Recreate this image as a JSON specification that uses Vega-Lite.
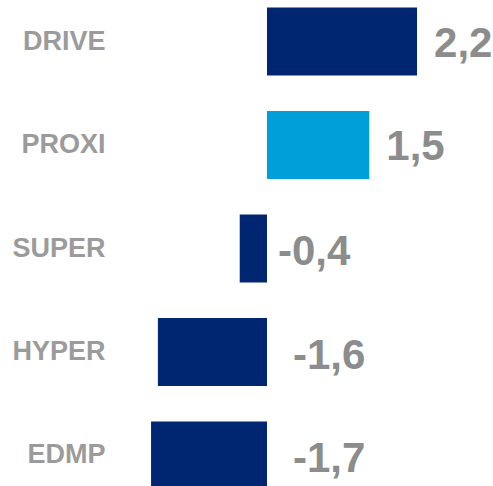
{
  "$schema": "https://vega.github.io/schema/vega-lite/v6.json",
  "width": 383,
  "height": 486,
  "autosize": "none",
  "padding": {"left": 110, "top": 0, "right": 0, "bottom": 0},
  "background": "white",
  "config": {"view": {"stroke": null}, "font": "Liberation Sans"},
  "data": {"values": [
    {"cat": "DRIVE", "value": 2.2, "label": "2,2", "group": "a"},
    {"cat": "PROXI", "value": 1.5, "label": "1,5", "group": "b"},
    {"cat": "SUPER", "value": -0.4, "label": "-0,4", "group": "a"},
    {"cat": "HYPER", "value": -1.6, "label": "-1,6", "group": "a"},
    {"cat": "EDMP", "value": -1.7, "label": "-1,7", "group": "a"}
  ]},
  "encoding": {
    "y": {"field": "cat", "type": "nominal", "sort": null,
      "scale": {"range": [0, 497], "paddingInner": 0.343, "paddingOuter": 0.0725},
      "axis": {"title": null, "domain": false, "ticks": false, "labelPadding": 5,
        "labelFontSize": 27, "labelFontWeight": "bold", "labelColor": "#9b9b9b",
        "labelFont": "Liberation Sans"}}
  },
  "layer": [
    {
      "mark": {"type": "bar"},
      "encoding": {
        "x": {"field": "value", "type": "quantitative", "scale": {"domain": [-2.302, 3.314], "nice": false, "zero": false}, "axis": null},
        "x2": {"datum": 0},
        "color": {"field": "group", "type": "nominal", "scale": {"domain": ["a", "b"], "range": ["#002672", "#009fda"]}, "legend": null}
      }
    },
    {
      "transform": [{"filter": "datum.value > 0"}],
      "mark": {"type": "text", "align": "left", "baseline": "alphabetic", "dx": 17, "dy": 15, "fontSize": 42, "fontWeight": "bold", "color": "#8c8c8c"},
      "encoding": {
        "x": {"field": "value", "type": "quantitative"},
        "text": {"field": "label"}
      }
    },
    {
      "transform": [{"filter": "datum.value < 0 && datum.value > -1"}],
      "mark": {"type": "text", "align": "left", "baseline": "alphabetic", "dx": 11, "dy": 16, "fontSize": 42, "fontWeight": "bold", "color": "#8c8c8c"},
      "encoding": {
        "x": {"datum": 0, "type": "quantitative"},
        "text": {"field": "label"}
      }
    },
    {
      "transform": [{"filter": "datum.value <= -1"}],
      "mark": {"type": "text", "align": "left", "baseline": "alphabetic", "dx": 26, "dy": 17, "fontSize": 42, "fontWeight": "bold", "color": "#8c8c8c"},
      "encoding": {
        "x": {"datum": 0, "type": "quantitative"},
        "text": {"field": "label"}
      }
    }
  ]
}
